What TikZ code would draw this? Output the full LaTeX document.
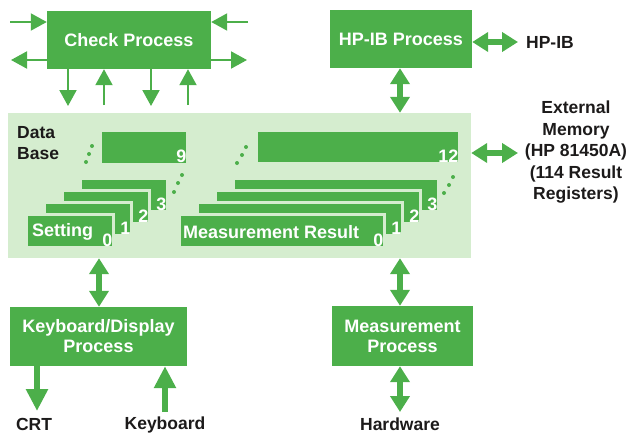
\documentclass[tikz,border=0pt]{standalone}
\usepackage{fontspec}
\setmainfont{Liberation Sans}
\usepackage{tikz}
\usetikzlibrary{arrows.meta}
\definecolor{boxgreen}{HTML}{4CAF4A}
\definecolor{basegreen}{HTML}{D5EDCF}
\definecolor{labelblack}{HTML}{1C1A1A}
\tikzset{
  procbox/.style={fill=boxgreen,text=white,align=center,inner sep=0pt,
    font=\fontsize{18}{20}\selectfont\bfseries},
  record/.style={fill=boxgreen,draw=basegreen,line width=2.5pt,anchor=north west,inner sep=0pt},
  recnum/.style={text=white,anchor=south east,inner sep=1.8pt,
    font=\fontsize{18}{20}\selectfont\bfseries},
  outlabel/.style={text=labelblack,align=center,inner sep=0pt,
    font=\fontsize{17.5}{21.5}\selectfont\bfseries},
  thinarrow/.style={boxgreen,line width=2pt,-{Triangle[length=16pt,width=17pt]}},
  thickarrow/.style={boxgreen,line width=6.5pt,-{Triangle[length=22pt,width=21pt]}},
  twoway/.style={boxgreen,line width=5.5pt,{Triangle[length=16pt,width=19pt]}-{Triangle[length=16pt,width=19pt]}}
}
\begin{document}
\begin{tikzpicture}[x=1pt,y=-1pt]
  \useasboundingbox (0,0) rectangle (632,434);
  \node[procbox,minimum width=164pt,minimum height=58pt] (check) at (129,40) {Check Process};
  \node[procbox,minimum width=142pt,minimum height=58pt] (hpib) at (401,39) {HP-IB Process};
  \node[fill=basegreen,minimum width=463pt,minimum height=145pt,inner sep=0pt] (base) at (239.5,185.5) {};
  \node[procbox,minimum width=177pt,minimum height=59pt] (kbd) at (98.5,336.5) {Keyboard/Display\\Process};
  \node[procbox,minimum width=141pt,minimum height=60pt] (meas) at (402.5,336) {Measurement\\Process};

  \node[outlabel,anchor=west,align=left] (dbase) at (17,143) {Data\\Base};
  \node[outlabel] (hpibout) at (550,42) {HP-IB};
  \node[outlabel] (extmem) at (576,152.5) {External\\Memory\\(HP 81450A)\\(114 Result\\Registers)};
  \node[outlabel] (crt) at (34,424.5) {CRT};
  \node[outlabel] (keys) at (165,424.5) {Keyboard};
  \node[outlabel] (hw) at (400,424.5) {Hardware};

  \node[record,minimum width=87pt,minimum height=33pt] (set9) at (99,129.5) {};
  \node[recnum] (setnum9) at (set9.south east) {9};
  \node[record,minimum width=203pt,minimum height=33pt] (res12) at (255,129) {};
  \node[recnum] (resnum12) at (res12.south east) {12};
  \foreach \k in {3,2,1,0} {
    \node[record,minimum width=87pt,minimum height=33pt] (set\k) at ({25+18*\k},{213-12*\k}) {};
    \node[recnum] (setnum\k) at (set\k.south east) {\k};
    \node[record,minimum width=205pt,minimum height=33pt] (res\k) at ({178+18*\k},{213-12*\k}) {};
    \node[recnum] (resnum\k) at (res\k.south east) {\k};
  }
  \node[procbox,anchor=west,fill=none] (setname) at ([xshift=7pt,yshift=-1pt]set0.west) {Setting};
  \node[procbox,anchor=west,fill=none] (resname) at ([xshift=5pt,yshift=-1pt]res0.west) {Measurement Result};

  \foreach \p in {(92,146),(89,154),(86,162),(182,175),(178,183),(174,192),
                  (246,147),(242,155),(237,163),(453,177),(449,185),(444,193)}
    \fill[boxgreen] \p circle (2pt);

  \coordinate (inleft) at (10,22);
  \coordinate (outleft) at (11,60);
  \coordinate (inright) at (248,22);
  \coordinate (outright) at (247,60);
  \draw[thinarrow] (inleft) -- (inleft -| check.west);
  \draw[thinarrow] (outleft -| check.west) -- (outleft);
  \draw[thinarrow] (inright) -- (inright -| check.east);
  \draw[thinarrow] (outright -| check.east) -- (outright);
  \coordinate (down1) at (68,106);
  \coordinate (up1) at (104,105);
  \coordinate (down2) at (151,106);
  \coordinate (up2) at (188,105);
  \draw[thinarrow] (down1 |- check.south) -- (down1);
  \draw[thinarrow] (up1) -- (up1 |- check.south);
  \draw[thinarrow] (down2 |- check.south) -- (down2);
  \draw[thinarrow] (up2) -- (up2 |- check.south);

  \coordinate (busend) at (518,42);
  \coordinate (memend) at (518,153);
  \draw[twoway] (hpib.east |- busend) -- (busend);
  \draw[twoway] (base.east |- memend) -- (memend);
  \draw[twoway] (hpib.south -| 400,0) -- (base.north -| 400,0);
  \draw[twoway] (base.south -| 99,0) -- (kbd.north -| 99,0);
  \draw[twoway] (base.south -| 400,0) -- (meas.north -| 400,0);
  \coordinate (hwend) at (400,412);
  \draw[twoway] (meas.south -| hwend) -- (hwend);
  \coordinate (crtend) at (37,411);
  \coordinate (keysstart) at (165,412);
  \draw[thickarrow] (kbd.south -| crtend) -- (crtend);
  \draw[thickarrow] (keysstart) -- (keysstart |- kbd.south);
\end{tikzpicture}
\end{document}
